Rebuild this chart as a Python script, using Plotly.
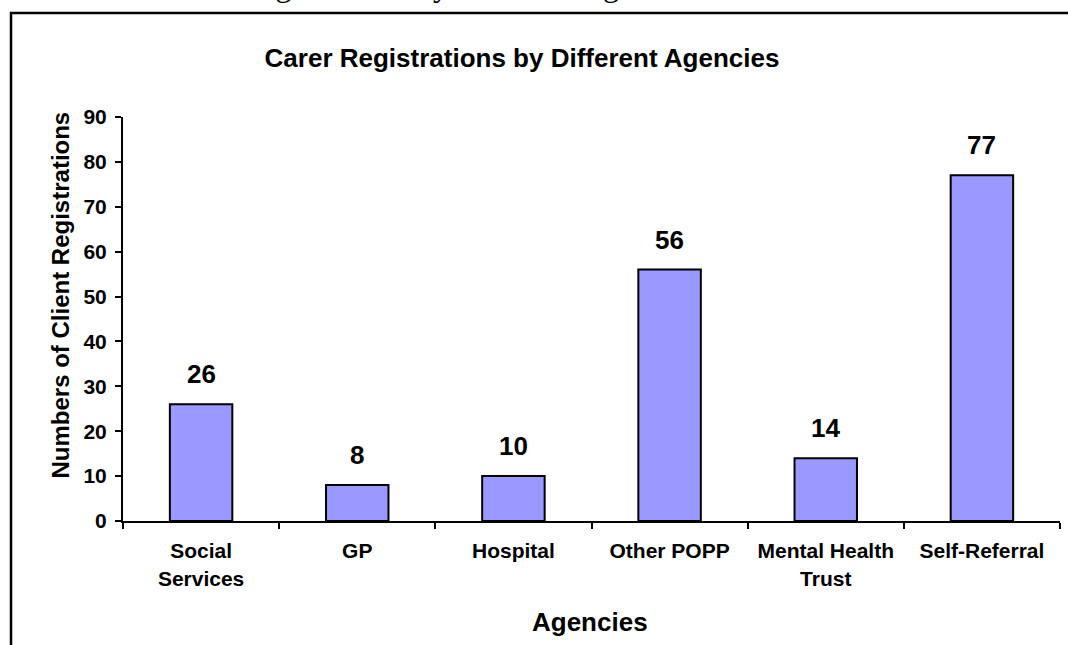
import plotly.graph_objects as go

agencies = ["Social Services", "GP", "Hospital", "Other POPP", "Mental Health Trust", "Self-Referral"]
tick_labels = ["Social<br>Services", "GP", "Hospital", "Other POPP", "Mental Health<br>Trust", "Self-Referral"]
registrations = [26, 8, 10, 56, 14, 77]

FONT = "Arial, Liberation Sans, sans-serif"

# plot area in pixels: x 123..1060, y 117..521
L, R, T, B = 123, 8, 117, 124
PW, PH = 1068 - L - R, 645 - T - B


def px_x(p):
    return (p - L) / PW


def px_y(p):
    return (645 - B - p) / PH


fig = go.Figure(go.Bar(
    x=agencies,
    y=registrations,
    width=0.4,
    marker=dict(color="#9999FF", line=dict(color="black", width=2)),
    hoverinfo="x+y",
))

annotations = []
for a, v in zip(agencies, registrations):
    annotations.append(dict(
        x=a, y=v, text=str(v), showarrow=False, yanchor="bottom", yshift=13,
        font=dict(family=FONT, size=26, color="black", weight="bold"),
    ))

# y axis title
annotations.append(dict(
    xref="paper", yref="paper", x=px_x(44), y=px_y(295), textangle=-90,
    text="Numbers of Client Registrations", showarrow=False,
    font=dict(family=FONT, size=24, color="black", weight="bold"),
))
# x axis title
annotations.append(dict(
    xref="paper", yref="paper", x=px_x(590), y=px_y(622),
    text="Agencies", showarrow=False, yanchor="middle",
    font=dict(family=FONT, size=26, color="black", weight="bold"),
))
# caption of the page above, cropped so only its descenders show
annotations.append(dict(
    xref="paper", yref="paper", x=px_x(159), y=px_y(5), xanchor="left", yanchor="bottom",
    text="Carer Registrations by Different Agencies", showarrow=False,
    font=dict(family="Liberation Serif, Times New Roman, serif", size=32, color="black"),
))

fig.update_layout(
    width=1068, height=645,
    margin=dict(l=L, r=R, t=T, b=B),
    paper_bgcolor="white", plot_bgcolor="white",
    showlegend=False,
    title=dict(
        text="Carer Registrations by Different Agencies",
        x=522 / 1068, xanchor="center", y=1 - 58 / 645, yanchor="middle",
        font=dict(family=FONT, size=26, color="black", weight="bold"),
    ),
    annotations=annotations,
    shapes=[dict(
        type="rect", xref="paper", yref="paper",
        x0=px_x(11), x1=px_x(1075), y0=px_y(660), y1=px_y(13),
        line=dict(color="black", width=2.5), fillcolor="rgba(0,0,0,0)",
    )],
)

fig.update_xaxes(
    tickmode="array", tickvals=agencies, ticktext=tick_labels,
    showline=True, linecolor="black", linewidth=2,
    ticks="outside", tickson="boundaries", ticklen=6, tickwidth=2, tickcolor="black",
    ticklabelstandoff=10,
    tickfont=dict(family=FONT, size=21, color="black", weight="bold"),
    showgrid=False,
)
fig.update_yaxes(
    range=[0, 90], dtick=10,
    showline=True, linecolor="black", linewidth=2,
    ticks="outside", ticklen=6, tickwidth=2, tickcolor="black",
    ticklabelstandoff=4,
    tickfont=dict(family=FONT, size=21, color="black", weight="bold"),
    showgrid=False, zeroline=False,
)

# drop the page's default body margin so the figure sits at the window corner
fig.write_html("out.html", config={"displayModeBar": False},
               post_script="document.body.style.margin='0';")
